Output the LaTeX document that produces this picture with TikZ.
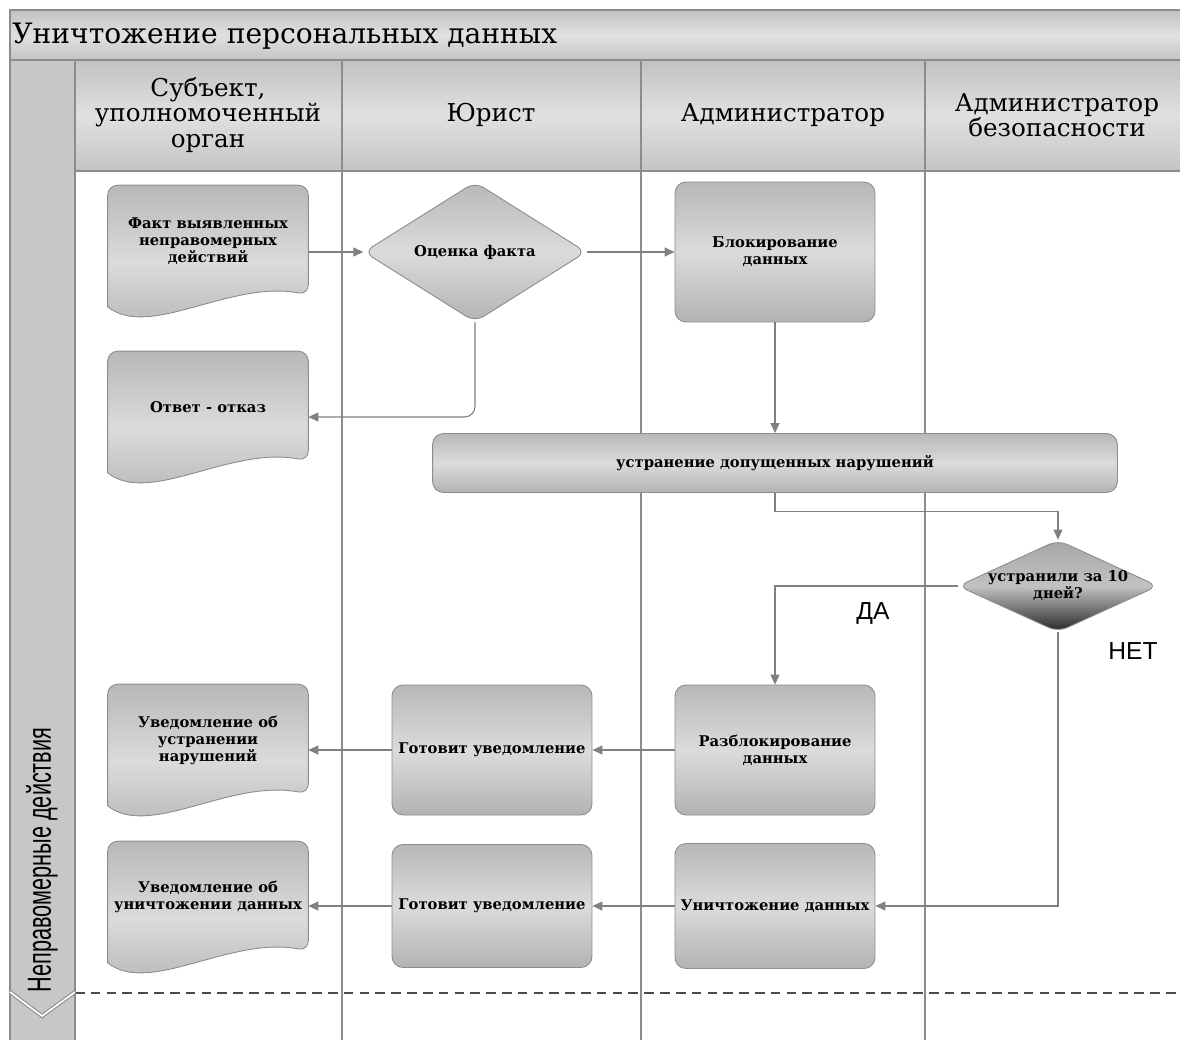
\documentclass[tikz,border=0pt]{standalone}
\usepackage{fontspec}
\setmainfont{DejaVu Serif}
\newfontfamily\arialfont{Liberation Sans}
\usetikzlibrary{shapes.geometric}
\usetikzlibrary{arrows.meta}
\usetikzlibrary{calc}
\pgfdeclarelayer{bg}
\pgfsetlayers{bg,main}

\begin{document}
\begin{tikzpicture}[x=0.02cm, y=-0.02cm,
    lane/.style={draw=black!45, line width=0.6pt},
    band/.style={draw=black!45, line width=0.6pt, top color=black!24, bottom color=black!23, middle color=black!12},
    boxfill/.style={draw=black!45, line width=0.5pt, top color=black!28, bottom color=black!30, middle color=black!14},
    boxtext/.style={align=center, font=\fontsize{8.4}{9.7}\selectfont\bfseries},
    procbox/.style={boxfill, boxtext, rectangle, rounded corners=0.22cm, minimum width=4cm, minimum height=2.6cm, inner sep=1pt},
    docbox/.style={boxtext, rectangle, minimum width=4cm, minimum height=2.22cm, inner sep=1pt},
    decbox/.style={diamond, boxfill, boxtext, rounded corners=0.2cm, inner sep=0pt},
    conn/.style={draw=black!50, line width=0.6pt, -{Triangle[length=2mm, width=1.8mm]}},
    hdr/.style={align=center, font=\fontsize{14}{14.5}\selectfont},
    yesno/.style={font=\arialfont\fontsize{14}{14}\selectfont}]
    \useasboundingbox (0,0) rectangle (1180,1039);

    % pool and lanes
    \shadedraw[band] (10,10) rectangle (1190,60);
    \shadedraw[band] (75,60) rectangle (1190,171);
    \filldraw[lane, fill=black!22] (10,60) rectangle (75,1045);
    \foreach \x in {342,641,925}
      \draw[lane] (\x,60) -- (\x,1045);
    \draw[lane] (75,171) -- (1190,171);
    \draw[black!70, line width=1.6pt, dash pattern=on 5.5pt off 3.5pt] (75,993) -- (1190,993);
    \draw[black!45, line width=0.6pt, double=white, double distance=1pt] (10,992) -- (42,1016) -- (75,992);

    \node[anchor=west, inner sep=0pt, font=\fontsize{16}{20}\selectfont] (title) at (12,36) {Уничтожение персональных данных};
    \node[hdr] (hd1) at (208,115) {Субъект,\\уполномоченный\\орган};
    \node[hdr] (hd2) at (491,115) {Юрист};
    \node[hdr] (hd3) at (783,115) {Администратор};
    \node[hdr] (hd4) at (1057,115) {Администратор\\безопасности};
    \node[rotate=90, font=\arialfont] (side) at (42,860) {\scalebox{0.65}[1]{\fontsize{19}{19}\selectfont Неправомерные действия}};

    % steps
    \node[docbox] (fact) at (208,241) {Факт выявленных\\неправомерных\\действий};
    \node[decbox, minimum width=4.45cm, minimum height=2.8cm] (ots) at (475,252) {Оценка факта};
    \node[procbox, minimum height=2.8cm] (blk) at (775,252) {Блокирование\\данных};
    \node[docbox] (otv) at (208,407) {Ответ - отказ};
    \node[procbox, minimum width=13.7cm, minimum height=1.18cm] (ust) at (775,463) {устранение допущенных нарушений};
    \node[decbox, minimum width=4cm, minimum height=1.84cm, top color=black!35, bottom color=black!85, middle color=black!24] (dec) at (1058,586) {};
    \node[boxtext] (dec-t) at (dec) {устранили за 10\\дней?};
    \node[procbox] (razb) at (775,750) {Разблокирование\\данных};
    \node[procbox] (got1) at (492,750) {Готовит уведомление};
    \node[docbox] (uv1) at (208,740) {Уведомление об\\устранении\\нарушений};
    \node[procbox, minimum height=2.5cm] (unich) at (775,906) {Уничтожение данных};
    \node[procbox, minimum height=2.46cm] (got2) at (492,906) {Готовит уведомление};
    \node[docbox] (uv2) at (208,897) {Уведомление об\\уничтожении данных};

    \begin{pgfonlayer}{bg}
    \foreach \n in {fact,otv,uv1,uv2}
      \shadedraw[boxfill, rounded corners=0.2cm] ($(\n.south west)+(0,10)$) -- (\n.north west) -- (\n.north east) -- ($(\n.south east)+(0,-2)$) [sharp corners] .. controls ($(\n.south west)+(122,-17)$) and ($(\n.south west)+(42,43)$) .. ($(\n.south west)+(0,10)$) -- cycle;
    \end{pgfonlayer}

    % flows
    \draw[conn] (fact.east |- ots.west) -- (ots.west);
    \draw[conn] (ots.east) -- (blk.west);
    \draw[conn, rounded corners=6pt] (ots.south) |- ([yshift=-0.2cm]otv.east);
    \draw[conn] (blk.south) -- (blk.south |- ust.north);
    \draw[conn] (ust.south) -- ++(0,19) -| (dec.north);
    \draw[conn] (dec.west) -| (razb.north);
    \draw[conn] (dec.south) |- (unich.east);
    \draw[conn] (razb.west) -- (got1.east);
    \draw[conn] (got1.west) -- (got1.west -| uv1.east);
    \draw[conn] (unich.west) -- (got2.east);
    \draw[conn] (got2.west) -- (got2.west -| uv2.east);
    \node[yesno] (yes) at (873,613) {ДА};
    \node[yesno] (no) at (1133,651) {НЕТ};
  \end{tikzpicture}
\end{document}
